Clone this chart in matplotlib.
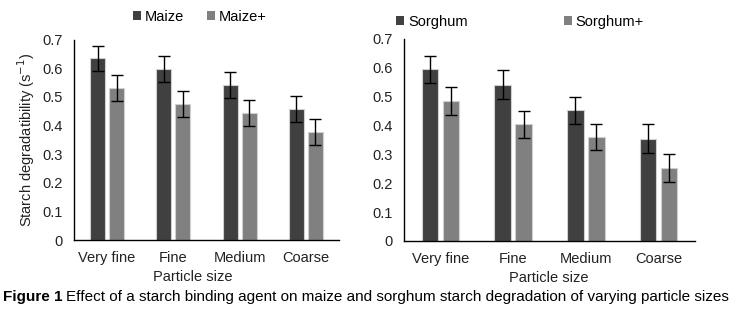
import matplotlib
matplotlib.use("Agg")
import matplotlib.pyplot as plt
from matplotlib.patches import Patch
import numpy as np

plt.rcParams['font.family'] = ['Liberation Sans', 'DejaVu Sans']

categories = ["Very fine", "Fine", "Medium", "Coarse"]
maize = [0.634, 0.596, 0.541, 0.457]
maize_err = [0.045, 0.046, 0.046, 0.046]
maize_plus = [0.531, 0.475, 0.444, 0.378]
maize_plus_err = [0.046, 0.046, 0.046, 0.046]
sorghum = [0.595, 0.542, 0.453, 0.355]
sorghum_err = [0.047, 0.049, 0.047, 0.049]
sorghum_plus = [0.484, 0.404, 0.360, 0.254]
sorghum_plus_err = [0.048, 0.048, 0.046, 0.048]
yticks = [0, 0.1, 0.2, 0.3, 0.4, 0.5, 0.6, 0.7]
ytick_labels = ["0", "0.1", "0.2", "0.3", "0.4", "0.5", "0.6", "0.7"]

W, H = 737, 310
fig = plt.figure(figsize=(W / 100, H / 100), dpi=100)

dark = "#404040"
light = "#808080"
edge = "#d0d0d0"

def panel(rect, s1, e1, s2, e2, names, leg_anchor, colsp, xlabel_x, ylabel=None):
    ax = fig.add_axes(rect)
    x = np.arange(len(categories))
    bw = 0.227
    off = 0.143
    ax.bar(x - off, s1, bw, color=dark, edgecolor=edge, linewidth=0.8, zorder=2)
    ax.bar(x + off, s2, bw, color=light, edgecolor=edge, linewidth=0.8, zorder=2)
    ax.errorbar(x - off, s1, yerr=e1, fmt="none", ecolor="black", elinewidth=1.0, capsize=4, capthick=1.0, zorder=3)
    ax.errorbar(x + off, s2, yerr=e2, fmt="none", ecolor="black", elinewidth=1.0, capsize=4, capthick=1.0, zorder=3)
    ax.set_xlim(-0.5, len(categories) - 0.5)
    ax.set_ylim(0, 0.7)
    ax.set_yticks(yticks)
    ax.set_yticklabels(ytick_labels)
    ax.set_xticks(x)
    ax.set_xticklabels(categories)
    ax.tick_params(axis="both", length=0, labelsize=10.5, colors="#222222")
    ax.tick_params(axis="x", pad=8)
    ax.tick_params(axis="y", pad=8)
    for s in ["top", "right"]:
        ax.spines[s].set_visible(False)
    for s in ["left", "bottom"]:
        ax.spines[s].set_color("black")
        ax.spines[s].set_linewidth(1.0)
    ax.set_xlabel("Particle size", fontsize=10.5, color="#222222")
    ax.xaxis.set_label_coords(xlabel_x, -(277 - 240) / rect[3] / H)
    ax.xaxis.label.set_va("center")
    if ylabel:
        ax.set_ylabel(ylabel, fontsize=10.5, color="#222222")
        ax.yaxis.set_label_coords(-(74 - 26) / 265, 0.5)
        ax.yaxis.label.set_va("center")
    handles = [Patch(facecolor=dark, edgecolor="none"), Patch(facecolor=light, edgecolor="none")]
    fig.legend(handles, names, loc="center", bbox_to_anchor=leg_anchor, ncol=2,
               frameon=False, fontsize=10.5, handlelength=0.55, handleheight=0.55,
               handletextpad=0.25, columnspacing=colsp)
    return ax

ax1 = panel([74 / W, (H - 240) / H, 265 / W, 200.5 / H], maize, maize_err, maize_plus, maize_plus_err,
            ["Maize", "Maize+"], (200 / W, 1 - 17 / H), 1.6, (193 - 74) / 265,
            ylabel="Starch degradatibility (s$^{-1}$)")
ax2 = panel([404 / W, (H - 241) / H, 291 / W, 202 / H], sorghum, sorghum_err, sorghum_plus, sorghum_plus_err,
            ["Sorghum", "Sorghum+"], (520 / W, 1 - 22 / H), 6.6, (549 - 404) / 291)

fig.canvas.draw()
r = fig.canvas.get_renderer()
t1 = fig.text(3 / W, 1 - 297 / H, "Figure 1", fontsize=11.0, fontweight="bold", va="center", ha="left")
bb = t1.get_window_extent(r)
t2 = fig.text((bb.x1 + 4) / W, 1 - 297 / H,
              "Effect of a starch binding agent on maize and sorghum starch degradation of varying particle sizes",
              fontsize=11.0, va="center", ha="left")

fig.savefig("out.png", dpi=100)
